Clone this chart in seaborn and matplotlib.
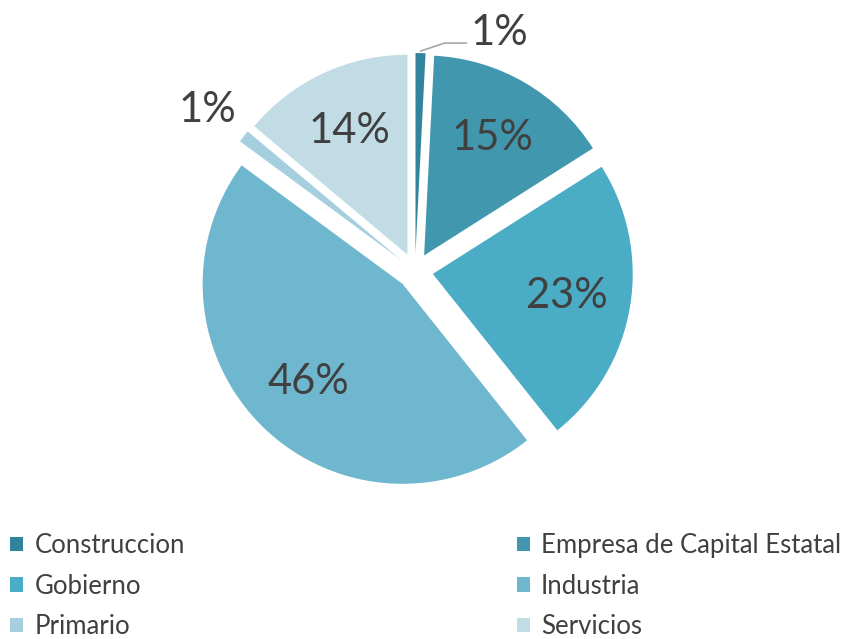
import numpy as np
import matplotlib
matplotlib.use("Agg")
import matplotlib.pyplot as plt
import seaborn as sns

# data (percent)
sectors = ['Construccion', 'Empresa de Capital Estatal', 'Gobierno',
           'Industria', 'Primario', 'Servicios']
shares = [0.8, 15.2, 23.3, 45.8, 1.0, 13.9]
colors = ['#31849B', '#4197AE', '#4BACC6', '#6FB7CE', '#A5CFDF', '#C1DCE5']

sns.set_theme(style='white')
plt.rcParams['font.family'] = ['Lato', 'DejaVu Sans']
text_color = '#404040'

fig = plt.figure(figsize=(8.62, 6.39), dpi=100)
ax = fig.add_axes([0.18, 0.169, 0.603, 0.814])

wedges, _ = ax.pie(shares, colors=colors, startangle=90, counterclock=False,
                   explode=[0.09] * len(shares), radius=1.0,
                   wedgeprops=dict(linewidth=0))
ax.set_xlim(-1.3, 1.3)
ax.set_ylim(-1.3, 1.3)
ax.set_aspect('equal')

for w, v in zip(wedges, shares):
    ang = np.deg2rad((w.theta1 + w.theta2) / 2)
    cx, cy = w.center
    label = f'{round(v):d}%'
    if v >= 5:
        r = 0.68
        ax.text(cx + r * np.cos(ang), cy + r * np.sin(ang), label,
                ha='center', va='center', fontsize=30, color=text_color)
    else:
        ex, ey = cx + 1.0 * np.cos(ang), cy + 1.0 * np.sin(ang)
        if np.cos(ang) > 0:
            tx = ex + 0.25
            ax.plot([ex, ex + 0.12, tx - 0.02], [ey + 0.01, ey + 0.05, ey + 0.05],
                    color='#A6A6A6', lw=1.2)
            ax.text(tx, ey + 0.1, label, ha='left', va='center',
                    fontsize=30, color=text_color)
        else:
            ax.text(ex - 0.18, ey + 0.13, label, ha='center', va='center',
                    fontsize=30, color=text_color)

# legend filled row by row, like the reference
order = [0, 2, 4, 1, 3, 5]
fig.legend([wedges[i] for i in order], [sectors[i] for i in order],
           loc='lower left', bbox_to_anchor=(0.012, 0.0),
           ncol=2, frameon=False, fontsize=18.5, labelcolor=text_color,
           handlelength=0.5, handleheight=0.5, handletextpad=0.45,
           columnspacing=12.9, labelspacing=0.6,
           borderpad=0, borderaxespad=0)

fig.savefig('out.png', dpi=100)
